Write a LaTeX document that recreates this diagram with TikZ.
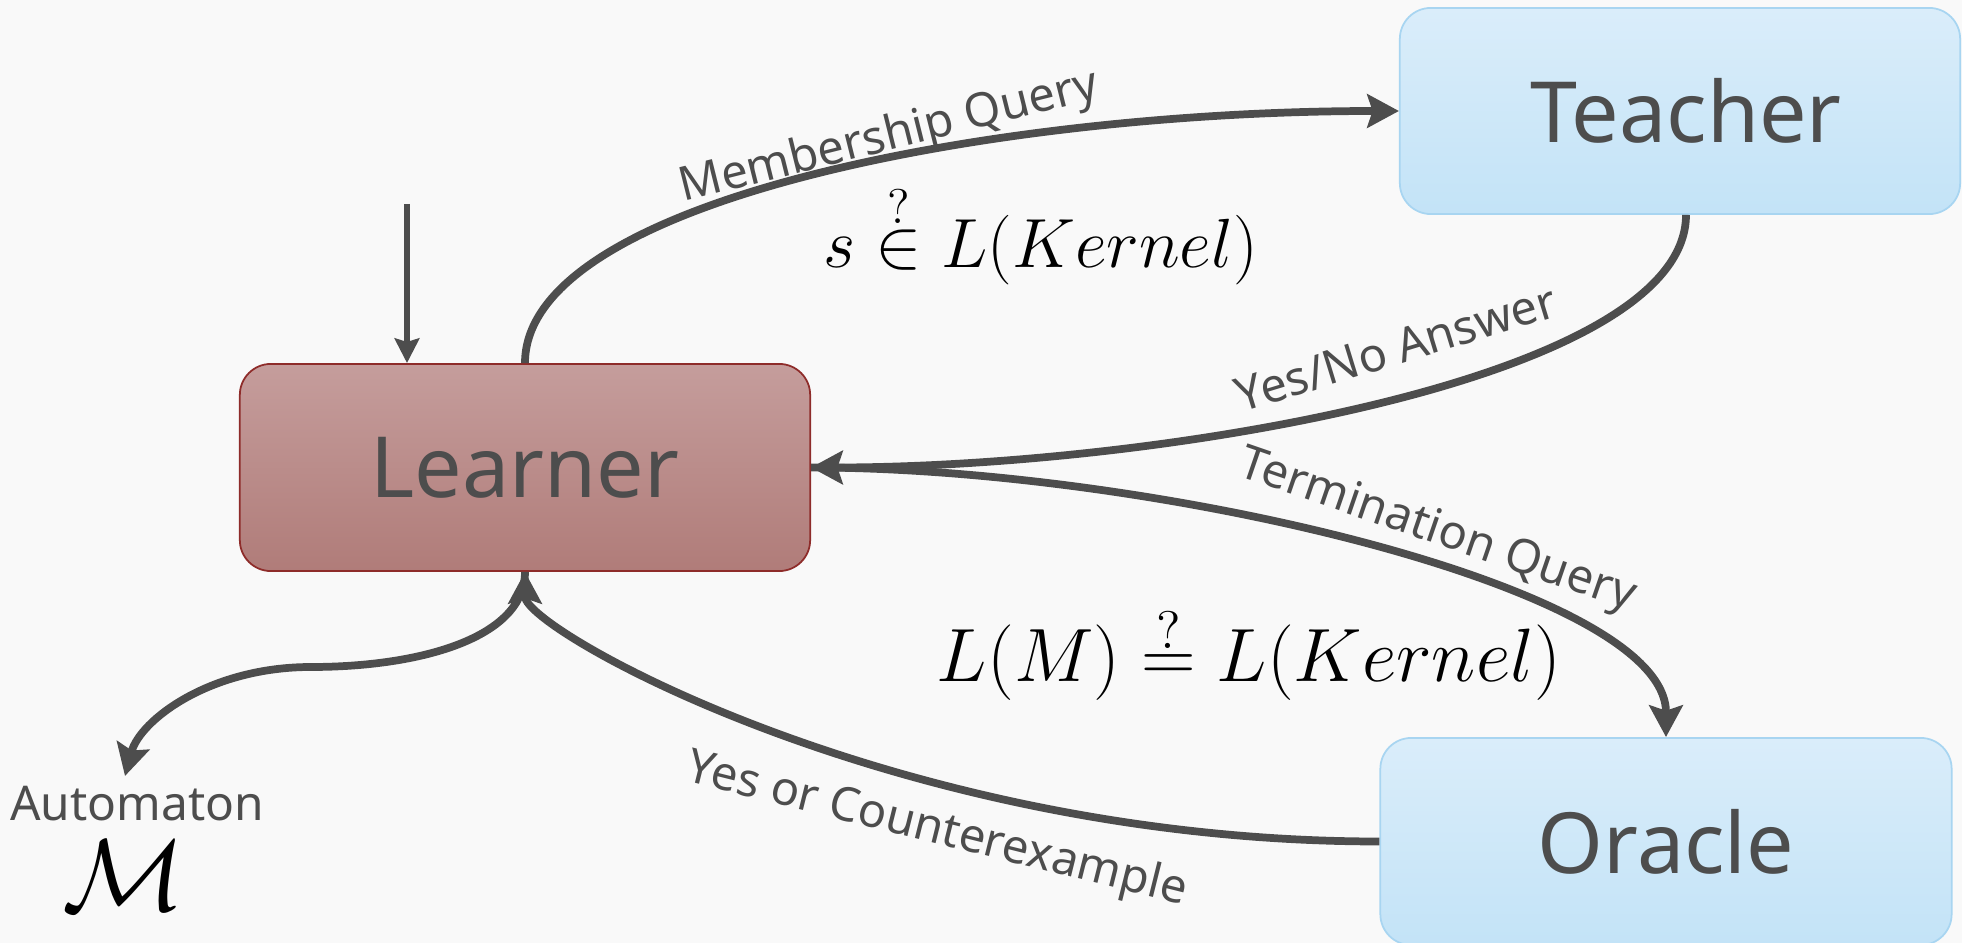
\RequirePackage{fix-cm}
\documentclass[tikz,border=0pt]{standalone}
\usepackage[no-math]{fontspec}
\setmainfont{Noto Sans}
\usetikzlibrary{arrows.meta}

\definecolor{bgcol}{HTML}{F9F9F9}
\definecolor{ink}{HTML}{4D4D4D}
\definecolor{learnTop}{HTML}{C59D9C}
\definecolor{learnBot}{HTML}{B07C79}
\definecolor{learnEdge}{HTML}{8E2C2A}
\definecolor{roleTop}{HTML}{DAEDFA}
\definecolor{roleBot}{HTML}{C3E3F7}
\definecolor{roleEdge}{HTML}{A8D5F1}

\begin{document}
\begin{tikzpicture}[x=0.01cm,y=-0.01cm,
  box/.style={rounded corners=0.31cm, minimum width=5.7cm, minimum height=2.07cm,
    font=\fontsize{24}{28}\selectfont, text=ink, line width=0.5pt, inner sep=0pt},
  learnerbox/.style={box, draw=learnEdge, top color=learnTop, bottom color=learnBot},
  rolebox/.style={box, draw=roleEdge, top color=roleTop, bottom color=roleBot},
  flow/.style={draw=ink, line width=2.2pt, -{Stealth[length=9pt,width=9.5pt,inset=1.5pt]}},
  entry/.style={draw=ink, line width=1.6pt, -{Stealth[length=7pt,width=7pt,inset=1pt]}},
  tag/.style={text=ink, font=\fontsize{13.4}{16}\selectfont, inner sep=0pt},
  formula/.style={text=black, inner sep=0pt, anchor=base},
]
% canvas
\useasboundingbox (0,0) rectangle (1962,943);
\clip (0,0) rectangle (1962,943);
\fill[bgcol] (0,0) rectangle (1962,943);

% the three parties
\node[learnerbox] (learner) at (525,467.5) {Learner};
\node[rolebox, minimum width=5.6cm, minimum height=2.06cm] (teacher) at (1680,111) {\hspace*{0.12cm}Teacher};
\node[rolebox, minimum width=5.71cm] (oracle) at (1666,841.5) {Oracle};

% entry point of the learner
\coordinate (init) at (407,204);
\draw[entry] (init) -- (init |- learner.north);

% membership query loop
\draw[flow] (learner.north) .. controls +(0,-164) and +(-400,0) .. (teacher.west);
\draw[flow] ([xshift=0.06cm]teacher.south) .. controls +(0,166) and +(340,0) .. (learner.east);

% termination query loop
\draw[flow] (learner.east) .. controls +(340,0) and +(0,-150) .. (oracle.north);
\draw[flow] (oracle.west) .. controls +(-480,0) and +(0,58) .. (learner.south);

% resulting automaton
\coordinate (bend) at (311,667);
\coordinate (mout) at (125,776);
\draw[flow] (learner.south) .. controls +(0,66) and +(109,0) .. (bend)
  .. controls +(-101,0) and +(15,-56) .. (mout);

% edge labels
\node[tag, rotate=14] (memq) at (889,138) {Membership Query};
\node[tag, rotate=17] (yesno) at (1396,348) {Yes/No Answer};
\node[tag, rotate=-19] (termq) at (1437,532) {Termination Query};
\node[tag, rotate=-14] (yescex) at (937,831) {Yes or Counterexample};

% formulas
\node[formula, font=\fontsize{19.8}{24}\selectfont] (memf) at (1041,268) {$s \stackrel{?}{\in} L(Kernel)$};
\node[formula, font=\fontsize{21.5}{26}\selectfont] (termf) at (1249,682) {$L(M) \stackrel{?}{=} L(Kernel)$};

% output
\node[tag, font=\fontsize{13.6}{16}\selectfont, anchor=base] (autlabel) at (137,821) {Automaton};
\node[formula, font=\fontsize{29}{34}\selectfont] (autsym) at (124,911) {$\mathcal{M}$};
\end{tikzpicture}
\end{document}
